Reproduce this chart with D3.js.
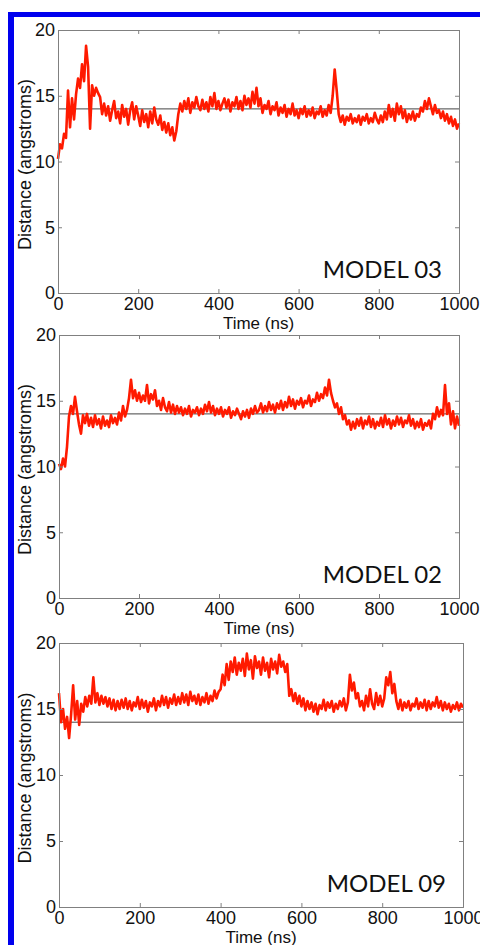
<!doctype html>
<html>
<head>
<meta charset="UTF-8">
<title>Distance vs time</title>
<script src="https://d3js.org/d3.v7.min.js"></script>
<style>
  body { margin: 0; background: #fff; }
  text { font-family: "Liberation Sans", Arial, sans-serif; fill: #111; }
</style>
</head>
<body>
<script>
// sampling step of the traces (ns)
var step = 5;
var xTicks = [0, 200, 400, 600, 800, 1000];
var yTicks = [0, 5, 10, 15, 20];
var refLevel = 14;
var models = ["MODEL 03", "MODEL 02", "MODEL 09"];

// MODEL 03 distance trace, one value every 5 ns
var model03 = [
  10.2, 11.3, 11.0, 12.1, 11.8, 15.4, 12.6, 14.8, 13.2, 15.1,
  16.3, 15.6, 17.4, 16.1, 18.8, 17.2, 12.5, 15.8, 15.0, 15.6,
  15.2, 14.9, 13.6, 14.4, 13.5, 14.2, 13.1, 13.9, 14.6, 13.3,
  13.8, 12.9, 14.3, 13.4, 14.0, 12.8, 13.9, 14.5, 13.2, 14.2,
  13.5, 12.7, 13.9, 13.0, 13.6, 12.6, 13.8, 12.9, 14.1, 13.2,
  12.8, 13.5, 12.4, 13.0, 12.2, 12.9, 12.0, 12.6, 11.6, 12.3,
  13.6, 14.4, 13.8, 14.6, 14.0, 14.8, 13.7, 14.5, 14.1, 14.9,
  14.2, 13.9, 14.7, 14.0, 14.5, 13.8, 14.9, 14.2, 15.2, 14.0,
  14.6, 13.9, 14.4, 14.8, 14.1, 14.7, 13.8, 14.5, 14.2, 14.9,
  14.0, 14.6, 13.9, 15.0, 14.3, 14.8, 14.1, 15.3, 14.4, 15.6,
  14.2, 14.8, 13.7, 14.3, 14.0, 14.6, 13.6, 14.2, 13.9, 14.5,
  13.5, 14.1, 13.7, 14.3, 13.4, 14.0, 13.6, 14.4, 13.5, 13.9,
  13.3, 14.0, 13.6, 14.2, 13.4, 13.9, 13.5, 14.1, 13.3, 13.8,
  13.6, 14.2, 13.4, 13.9, 13.5, 14.3, 13.7, 15.0, 17.0, 15.4,
  13.6, 13.0, 13.5, 12.8, 13.4, 13.1, 13.6, 12.9, 13.3, 13.0,
  13.5, 12.8, 13.4, 13.1, 13.6, 12.9, 13.3, 13.0, 13.7, 13.2,
  12.9, 13.5, 13.0, 13.8, 13.2, 14.3, 13.4, 14.0, 13.1, 14.4,
  13.6, 14.2, 13.3, 13.9, 13.0, 13.6, 13.2, 13.8, 13.1, 13.6,
  13.4, 14.1, 13.8, 14.6, 14.0, 14.8, 14.2, 13.6, 14.3, 13.7,
  13.9, 13.3, 13.8, 13.1, 13.6, 12.9, 13.4, 12.7, 13.2, 12.5,
  12.9
];

// MODEL 02 distance trace
var model02 = [
  10.2, 9.8, 10.6, 10.0, 11.5, 13.8, 14.6, 14.0, 15.3, 14.2,
  13.2, 12.5, 13.9, 13.3, 14.0, 13.1, 13.7, 13.0, 13.9, 13.2,
  13.6, 12.9, 13.8, 13.1, 13.5, 13.0, 13.9, 13.3, 13.7, 13.2,
  14.1, 13.5, 14.6, 13.8, 14.3, 15.2, 16.6, 15.2, 15.8, 15.0,
  15.6, 14.9, 15.4, 15.0, 16.2, 14.8, 15.5, 15.1, 15.8, 14.6,
  15.0, 14.3, 15.2, 14.5, 14.2, 14.9, 14.1, 14.7, 14.0, 14.6,
  14.1, 14.5, 13.9, 14.4, 14.0, 14.6, 13.8, 14.3, 14.1, 14.5,
  13.9, 14.4, 14.0, 14.7, 14.2, 14.9, 14.1, 14.6, 13.9, 14.4,
  14.0, 14.5, 13.8, 14.3, 14.0, 14.5, 13.7, 14.2, 13.9, 14.4,
  14.0, 13.6, 14.2, 13.8, 14.3, 13.7, 14.4, 14.0, 14.6, 14.1,
  14.3, 14.8, 14.1, 14.6, 14.2, 14.9, 14.3, 14.7, 14.1, 14.8,
  14.4, 15.0, 14.3, 14.9, 14.5, 15.3, 14.6, 15.1, 14.4, 15.0,
  14.7, 15.2, 14.5, 15.0, 14.8, 15.4, 14.6, 15.1, 14.9, 15.6,
  15.0, 15.5, 15.2, 16.0, 15.4, 16.6, 15.6, 15.0, 14.5, 14.8,
  14.0, 14.5, 13.6, 13.9, 13.2, 13.5, 12.8, 13.4, 12.9, 13.6,
  13.1, 13.7, 12.9, 13.5, 13.2, 13.8, 13.0, 13.6, 12.9, 13.4,
  13.1, 13.7, 13.0, 13.9, 13.2, 13.6, 12.9, 13.5, 13.1, 13.8,
  13.2, 13.7, 13.0, 13.5, 13.3, 13.9, 13.1, 13.6, 12.9, 13.4,
  13.0, 13.6, 12.8, 13.3, 13.1, 13.5, 12.9, 14.0, 13.6, 14.5,
  13.8, 14.3, 13.9, 16.2, 14.0, 14.8, 13.2, 14.2, 12.9, 13.8,
  13.1
];

// MODEL 09 distance trace
var model09 = [
  16.2, 14.0, 15.0, 13.5, 14.4, 12.8, 14.6, 16.8, 14.2, 15.6,
  13.8, 15.4, 14.8, 15.9, 15.2, 16.0, 15.4, 17.4, 15.5, 16.2,
  15.3, 16.0, 15.4, 15.9, 15.2, 15.8, 15.0, 15.7, 14.9, 15.6,
  15.0, 15.7, 15.1, 15.8, 15.0, 15.6, 14.9, 15.5, 15.2, 15.9,
  15.0, 15.7, 15.1, 15.6, 14.8, 15.5, 15.2, 15.8, 14.9, 15.6,
  15.2, 16.0, 15.3, 15.9, 15.1, 15.8, 15.4, 16.1, 15.3, 15.9,
  15.4, 16.2, 15.5, 16.1, 15.3, 16.3, 15.6, 16.0, 15.4, 16.1,
  15.3, 15.9, 15.5, 16.2, 15.4, 16.0, 15.6, 16.4, 15.8, 16.3,
  16.5, 17.6, 16.8, 18.4, 17.2, 18.6, 17.8, 18.9, 17.6, 18.5,
  17.9, 18.8, 17.5, 19.2, 18.0, 18.7, 17.3, 19.0, 18.1, 18.6,
  17.6, 18.9, 17.9, 18.5, 17.4, 18.8, 18.0, 18.6, 17.7, 19.1,
  18.2, 18.6, 17.8, 18.4, 16.0, 16.5, 15.6, 16.2, 15.4, 16.0,
  15.2, 15.8, 14.9, 15.6, 15.0, 15.5, 14.8, 15.4, 14.6, 15.3,
  15.0, 15.7, 14.9, 15.5, 15.1, 15.6, 14.8, 15.4, 15.0, 15.6,
  15.2, 15.8, 14.9, 15.5, 17.6, 16.4, 17.0, 15.8, 16.2, 15.2,
  15.6, 14.9, 16.0, 15.2, 16.5, 15.4, 15.0, 16.2, 15.3, 16.0,
  15.2, 15.8, 17.4, 16.8, 17.8, 16.2, 16.9, 15.6, 15.0, 15.7,
  14.9, 15.5, 15.1, 15.6, 14.9, 15.4, 15.2, 15.8, 15.0, 15.5,
  15.1, 15.7, 14.9, 15.6, 15.0, 15.5, 15.2, 15.9, 15.1, 15.6,
  14.9, 15.5, 15.0, 15.4, 14.8, 15.3, 15.0, 15.5, 14.9, 15.4,
  15.1
];

var traces = [model03, model02, model09];

// panel boxes on the page
var boxes = [
  {l: 58, r: 459, t: 30, b: 293},
  {l: 59, r: 459, t: 335, b: 598},
  {l: 59, r: 463, t: 643, b: 907}
];

var W = 480, H = 945;
var svg = d3.select("body").append("svg").attr("width", W).attr("height", H);

// blue frame
svg.append("rect").attr("x", 8).attr("y", 12).attr("width", W - 8).attr("height", 5).attr("fill", "#0000ee");
svg.append("rect").attr("x", 8).attr("y", 12).attr("width", 6).attr("height", H - 12).attr("fill", "#0000ee");

boxes.forEach(function(bx, k) {
  var x = d3.scaleLinear().domain([0, 1000]).range([bx.l, bx.r]);
  var y = d3.scaleLinear().domain([0, 20]).range([bx.b, bx.t]);
  var g = svg.append("g");
  var axisCol = "#808080";

  // reference line at 14 A
  g.append("line")
    .attr("x1", x(0)).attr("x2", x(1000))
    .attr("y1", y(refLevel)).attr("y2", y(refLevel))
    .attr("stroke", "#444").attr("stroke-width", 1);

  // trace
  var line = d3.line()
    .x(function(d, i) { return x(i * step); })
    .y(function(d) { return y(d); });
  g.append("path")
    .datum(traces[k])
    .attr("d", line)
    .attr("fill", "none")
    .attr("stroke", "#ff1a00")
    .attr("stroke-width", 2.6)
    .attr("stroke-linejoin", "round");

  // axes: inward ticks on all four sides, matlab style
  var ax = [
    d3.axisBottom(x).tickValues(xTicks).tickSize(-4).tickPadding(4).tickFormat(d3.format("d")),
    d3.axisLeft(y).tickValues(yTicks).tickSize(-4).tickPadding(3),
    d3.axisTop(x).tickValues(xTicks).tickSize(-4).tickFormat(""),
    d3.axisRight(y).tickValues(yTicks).tickSize(-4).tickFormat("")
  ];
  var pos = ["translate(0," + bx.b + ")", "translate(" + bx.l + ",0)",
             "translate(0," + bx.t + ")", "translate(" + bx.r + ",0)"];
  ax.forEach(function(a, j) {
    var ag = g.append("g").attr("transform", pos[j]).call(a);
    ag.selectAll("path, line").attr("stroke", axisCol);
    ag.selectAll("text").attr("fill", "#111")
      .style("font-family", "'Liberation Sans', Arial, sans-serif")
      .style("font-size", "18px");
  });

  // axis labels
  g.append("text")
    .attr("x", (bx.l + bx.r) / 2)
    .attr("y", bx.b + 36)
    .attr("text-anchor", "middle")
    .style("font-size", "17px")
    .text("Time (ns)");

  g.append("text")
    .attr("transform", "translate(31," + ((bx.t + bx.b) / 2 + 3) + ") rotate(-90)")
    .attr("text-anchor", "middle")
    .style("font-size", "18px")
    .text("Distance (angstroms)");

  g.append("text")
    .attr("x", bx.r - 17)
    .attr("y", bx.b - 15)
    .attr("text-anchor", "end")
    .style("font-family", "Lato, 'Open Sans', sans-serif")
    .style("font-size", "24px")
    .text(models[k]);
});
</script>
</body>
</html>
